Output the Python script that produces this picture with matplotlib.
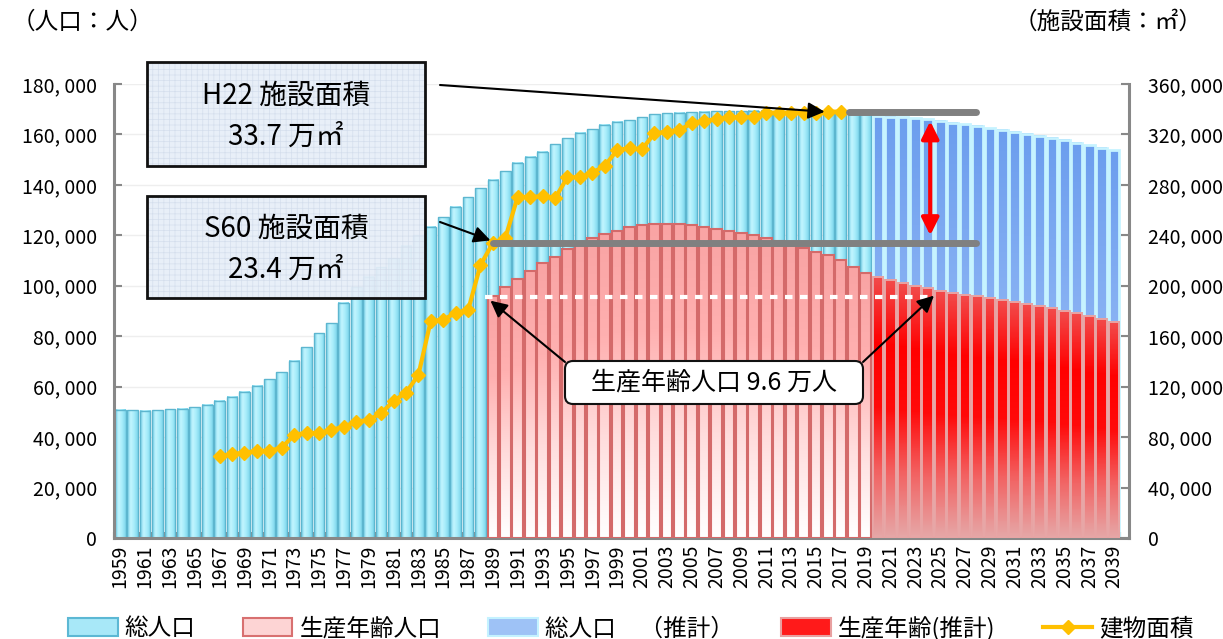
import numpy as np
import matplotlib
matplotlib.use("Agg")
import matplotlib.pyplot as plt
from matplotlib.colors import LinearSegmentedColormap
from matplotlib.patches import Rectangle, FancyBboxPatch, Patch
from matplotlib.lines import Line2D
from matplotlib.ticker import FuncFormatter, MultipleLocator, FixedLocator

plt.rcParams['font.family'] = ['Noto Sans CJK JP', 'DejaVu Sans']
plt.rcParams['hatch.linewidth'] = 0.5

# ---------------- data ----------------
years_actual = list(range(1959, 2020))
total_actual = [50800, 50700, 50500, 50700, 51000, 51300, 51800, 52800, 54400, 56000,
                58000, 60300, 62900, 65800, 70300, 75600, 81200, 85100, 93300, 99400,
                103600, 107300, 110900, 115800, 120100, 123400, 127200, 131400, 135100, 138600,
                142000, 145500, 148800, 151200, 153200, 156100, 158500, 160700, 162000, 163800,
                165100, 165700, 166800, 168000, 168400, 168600, 168800, 169000, 169100, 169200,
                169200, 169300, 169300, 169200, 169100, 169000, 168900, 168800, 168600, 168400,
                168200]
years_prod_actual = list(range(1989, 2020))
prod_actual = [95900, 99400, 102600, 106000, 108900, 111500, 114500, 116800, 118800, 120500,
               121800, 123200, 124000, 124400, 124500, 124500, 124100, 123200, 122400, 121700,
               120800, 120000, 119000, 117600, 116300, 114900, 113500, 112200, 110200, 107600,
               105200]
years_proj = list(range(2020, 2040))
total_proj = [167300, 167000, 166800, 166400, 166000, 165500, 164700, 164000, 163400, 162400,
              161800, 161000, 160200, 159500, 158600, 157800, 156700, 155700, 154800, 153800]
prod_proj = [103600, 102300, 101200, 100000, 99000, 98100, 97300, 96500, 95800, 95200,
             94400, 93600, 92800, 92000, 91200, 90100, 89100, 88000, 87000, 85800]
years_area = list(range(1967, 2018))
area = [65000, 66400, 67700, 69000, 69200, 71600, 81700, 83500, 83000, 85600,
        88300, 92200, 93600, 98900, 108600, 115200, 129300, 172300, 172800, 178800,
        180500, 216500, 234000, 238000, 270700, 270200, 271200, 269400, 286000, 286000,
        289700, 295000, 307700, 309000, 308200, 320900, 322200, 323500, 328800, 330900,
        332000, 333600, 333600, 333600, 337300, 337300, 337300, 336700, 336700, 338100,
        338100]
all_years = list(range(1959, 2040))
legend_labels = ['総人口', '生産年齢人口', '総人口　（推計）', '生産年齢(推計)', '建物面積']

area_h22 = 338000
area_s60 = 234000
prod_1989 = 95600

# ---------------- figure ----------------
W, H = 1223, 639
fig = plt.figure(figsize=(W / 100, H / 100), dpi=100)
ax = fig.add_axes([114 / W, 1 - 538 / H, (1129 - 114) / W, (538 - 84) / H])

x0year = all_years[0]
def xi(yrs):
    return np.array(yrs) - x0year

def gradient_bars(axis, x, h, width, stops, orient, edgecolor, lw, z):
    cmap = LinearSegmentedColormap.from_list('g', stops)
    bars = axis.bar(x, h, width=width, facecolor='none', edgecolor=edgecolor,
                    linewidth=lw, zorder=z + 0.2)
    g = np.linspace(0, 1, 64)
    img = g.reshape(1, -1) if orient == 'h' else g.reshape(-1, 1)
    for r in bars:
        bx, bw, bh = r.get_x(), r.get_width(), r.get_height()
        axis.imshow(img, cmap=cmap, extent=[bx, bx + bw, 0, bh], origin='lower',
                    aspect='auto', interpolation='bicubic', zorder=z)
    return bars

# total population (actual) - cyan
gradient_bars(ax, xi(years_actual), total_actual, 0.86,
              ['#6FCCE6', '#C4F6FF', '#A6ECFA', '#7ED6EC'], 'h', '#5DB6CF', 1.0, 2)
# total population (projection) - blue
gradient_bars(ax, xi(years_proj), total_proj, 0.86,
              ['#A9CBF8', '#8CB4F4', '#6C9EEE'], 'v', '#C6F3FF', 2.0, 2)
# productive age (actual) - pale red
gradient_bars(ax, xi(years_prod_actual), prod_actual, 0.86,
              ['#FFFFFF', '#FFDCDC', '#FFB0B0', '#F9A4A4'], 'v', '#D46A6A', 1.5, 3)
# productive age (projection) - red
gradient_bars(ax, xi(years_proj), prod_proj, 0.86,
              ['#E6A6A6', '#F26262', '#FF0A0A', '#FF0000', '#F24A4A'], 'v', '#E8A4A4', 1.4, 3)

ax.set_xlim(-0.5, 81.2)
ax.set_ylim(0, 180000)
ax.yaxis.set_major_locator(MultipleLocator(20000))
fmt = FuncFormatter(lambda v, p: '0' if v == 0 else '{:,}'.format(int(v)).replace(',', ', '))
ax.yaxis.set_major_formatter(fmt)
ax.yaxis.grid(True, color='#EEEEEE', lw=1)
ax.set_axisbelow(True)

ax.set_xticks(xi(all_years[::2]))
ax.set_xticklabels([str(y) for y in all_years[::2]], rotation=90, fontsize=14)
ax.xaxis.set_minor_locator(FixedLocator(np.arange(-0.5, 81, 1.0)))
ax.tick_params(axis='x', which='major', length=0, pad=5)
ax.tick_params(axis='x', which='minor', direction='in', length=4, color='#888888', width=1.5)
ax.tick_params(axis='y', direction='in', length=6, color='#888888', width=1.5,
               labelsize=14, pad=12)
for s in ['top', 'right']:
    ax.spines[s].set_visible(False)
for s in ['left', 'bottom']:
    ax.spines[s].set_color('#888888')
    ax.spines[s].set_linewidth(2.2)

# ---------------- right axis ----------------
ax2 = ax.twinx()
ax2.set_ylim(0, 360000)
ax2.set_xlim(-0.5, 81.2)
ax2.yaxis.set_major_locator(MultipleLocator(40000))
ax2.yaxis.set_major_formatter(fmt)
ax2.tick_params(axis='y', direction='in', length=6, color='#888888', width=1.5,
                labelsize=14, pad=14)
for s in ['top', 'left', 'bottom']:
    ax2.spines[s].set_visible(False)
ax2.spines['right'].set_color('#888888')
ax2.spines['right'].set_linewidth(2.2)

ax2.plot(xi(years_area), area, color='#FFC000', lw=3, marker='D', markersize=7.5,
         markeredgecolor='#FFC000', zorder=5)

# grey reference lines
ax2.plot([xi([2017])[0] + 0.7, 68.9], [area_h22, area_h22], color='#808080', lw=5,
         solid_capstyle='round', zorder=6)
ax2.plot([xi([1989])[0], 68.9], [area_s60, area_s60], color='#808080', lw=5,
         solid_capstyle='round', zorder=6)
# red double arrow
ax2.annotate('', xy=(65.2, 240000), xytext=(65.2, 330500),
             arrowprops=dict(arrowstyle='<|-|>', color='red', lw=3, mutation_scale=26,
                             shrinkA=0, shrinkB=0), zorder=7)
# white dashed line (productive age 1989 level)
ax2.plot([29.4, 65.5], [prod_1989 * 2, prod_1989 * 2], color='white', lw=3,
         dashes=(1.8, 1.8), zorder=7)

def figfrac(px, py):
    return (px / W, 1 - py / H)

# arrows from annotation boxes
arrow_kw = dict(arrowstyle='-|>', color='black', lw=1.5, mutation_scale=25,
                shrinkA=0, shrinkB=0)
ax2.annotate('', xy=(56.7, 338000), xycoords='data', xytext=figfrac(440, 85),
             textcoords='figure fraction', arrowprops=arrow_kw, zorder=8)
ax2.annotate('', xy=(29.8, 236000), xycoords='data', xytext=figfrac(440, 222),
             textcoords='figure fraction', arrowprops=arrow_kw, zorder=8)
ax2.annotate('', xy=(29.8, prod_1989 * 2 - 3000), xycoords='data', xytext=figfrac(565, 362),
             textcoords='figure fraction', arrowprops=arrow_kw, zorder=8)
ax2.annotate('', xy=(65.5, prod_1989 * 2 + 1000), xycoords='data', xytext=figfrac(863, 362),
             textcoords='figure fraction', arrowprops=arrow_kw, zorder=8)

# ---------------- annotation boxes ----------------
def inch_box(px0, py0, px1, py1):
    return px0 / 100, (H - py1) / 100, (px1 - px0) / 100, (py1 - py0) / 100

for (bx0, by0, bx1, by1), l1, l2 in [((147, 62, 425, 166), 'H22 施設面積', '33.7 万㎡'),
                                      ((147, 196, 425, 298), 'S60 施設面積', '23.4 万㎡')]:
    x, y, w, h = inch_box(bx0, by0, bx1, by1)
    fig.add_artist(Rectangle((x, y), w, h, transform=fig.dpi_scale_trans,
                             facecolor='#E7EEF8', edgecolor='#D3DDEC', hatch='+++',
                             lw=0, alpha=0.92, zorder=10))
    fig.add_artist(Rectangle((x, y), w, h, transform=fig.dpi_scale_trans,
                             facecolor='none', edgecolor='#111111', lw=2, zorder=11))
    cx = (bx0 + bx1) / 2
    fig.text(cx / W, 1 - (by0 + 0.32 * (by1 - by0)) / H, l1, ha='center', va='center',
             fontsize=20, zorder=12)
    fig.text(cx / W, 1 - (by0 + 0.72 * (by1 - by0)) / H, l2, ha='center', va='center',
             fontsize=20, zorder=12)

x, y, w, h = inch_box(565, 361, 863, 404)
fig.add_artist(FancyBboxPatch((x, y), w, h, boxstyle='round,pad=0,rounding_size=0.08',
                              transform=fig.dpi_scale_trans, facecolor='white',
                              edgecolor='#111111', lw=1.5, zorder=10))
fig.text((565 + 863) / 2 / W, 1 - 383 / H, '生産年齢人口 9.6 万人', ha='center',
         va='center', fontsize=18, zorder=12)

# axis unit labels
fig.text(12 / W, 1 - 22 / H, '（人口：人）', ha='left', va='center', fontsize=17)
fig.text(1203 / W, 1 - 22 / H, '（施設面積：㎡）', ha='right', va='center', fontsize=17)

# ---------------- legend ----------------
handles = [Patch(facecolor='#A8E8F8', edgecolor='#5CB8D4', lw=1.5),
           Patch(facecolor='#FDD4D4', edgecolor='#D87070', lw=1.5),
           Patch(facecolor='#9EC2F6', edgecolor='#C4F2FF', lw=1.5),
           Patch(facecolor='#FF1A1A', edgecolor='#E8A0A0', lw=1.5),
           Line2D([0], [0], color='#FFC000', lw=3, marker='D', markersize=7)]
fig.legend(handles, legend_labels, loc='center', bbox_to_anchor=(631 / W, 1 - 628 / H),
           ncol=5, frameon=False, fontsize=17, handlelength=2.1, handleheight=0.8,
           columnspacing=2.0, handletextpad=0.3)

fig.savefig('out.png', dpi=100)
